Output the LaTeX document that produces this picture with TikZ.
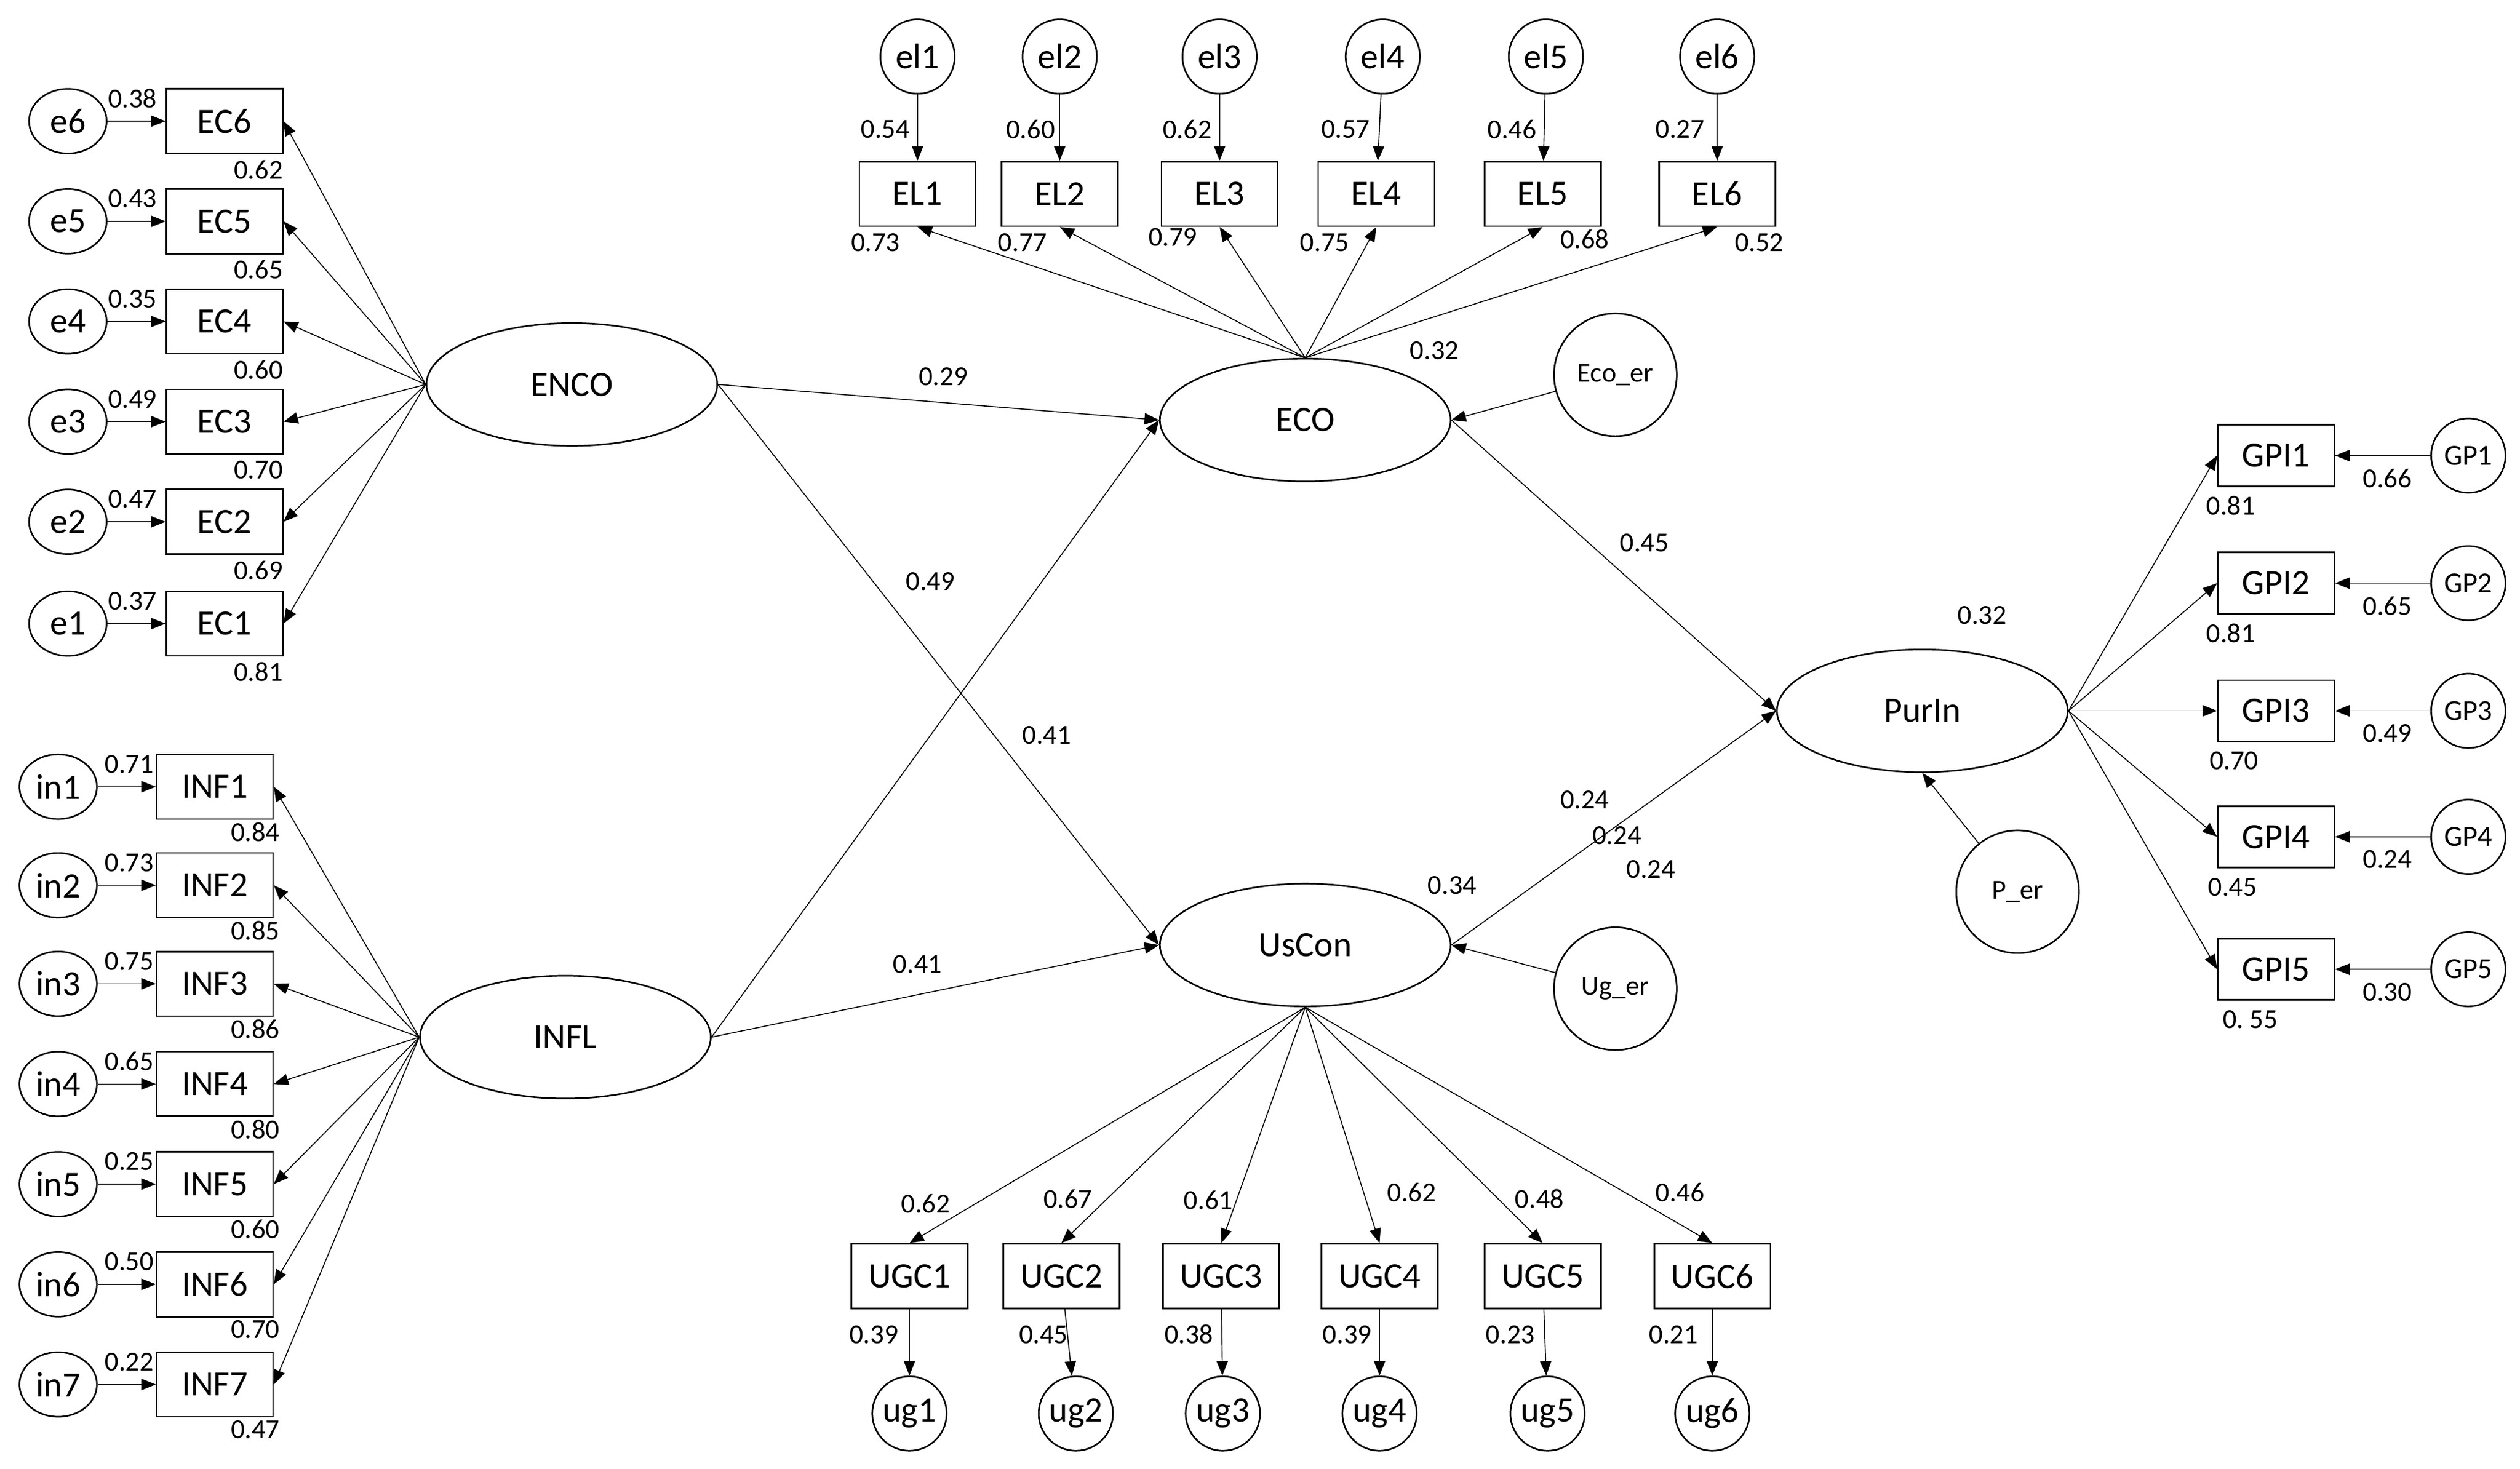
\documentclass[tikz,border=0pt]{standalone}
\usepackage{fontspec}
\setmainfont{Carlito}
\usetikzlibrary{arrows.meta,shapes.geometric}
\begin{document}
\begin{tikzpicture}[x=1pt,y=-1pt,
 box/.style={draw,line width=1pt,minimum width=72pt,minimum height=40pt,font=\fontsize{22}{24}\selectfont,inner sep=1pt},
 lat/.style={draw,ellipse,line width=1pt,minimum width=180pt,minimum height=76pt,font=\fontsize{22}{24}\selectfont},
 err/.style={draw,circle,line width=1pt,minimum size=46pt,inner sep=0pt,font=\fontsize{22}{24}\selectfont},
 eerr/.style={draw,ellipse,line width=1pt,minimum width=48pt,minimum height=40pt,inner sep=0pt,font=\fontsize{22}{24}\selectfont},
 rerr/.style={draw,circle,line width=1pt,minimum size=76pt,inner sep=0pt,font=\fontsize{17}{19}\selectfont},
 num/.style={font=\fontsize{17}{19}\selectfont,inner sep=0pt},
 arr/.style={-{Triangle[length=9pt,width=7pt]},line width=0.6pt}]
\useasboundingbox (0,0) rectangle (1560,909);
% ENCO block
\node[lat] (ENCO) at (354,238) {ENCO};
\foreach \i/\y/\a/\b in {6/75/0.38/0.62,5/137/0.43/0.65,4/199/0.35/0.60,3/261/0.49/0.70,2/323/0.47/0.69,1/386/0.37/0.81}{
 \node[box] (EC\i) at (139,\y) {EC\i};
 \node[eerr] (e\i) at (42,\y) {e\i};
 \draw[arr] (e\i) -- (EC\i);
 \draw[arr] (ENCO.west) -- (EC\i.east);
 \node[num] (ea\i) at (82,\y-14) {\a};
 \node[num] (eb\i) at (160,\y+30) {\b};
}
% INFL block
\node[lat] (INFL) at (350,642) {INFL};
\foreach \i/\y/\a/\b in {1/487/0.71/0.84,2/548/0.73/0.85,3/609/0.75/0.86,4/671/0.65/0.80,5/733/0.25/0.60,6/795/0.50/0.70,7/857/0.22/0.47}{
 \node[box] (INF\i) at (133,\y) {INF\i};
 \node[eerr] (in\i) at (36,\y) {in\i};
 \draw[arr] (in\i) -- (INF\i);
 \draw[arr] (INFL.west) -- (INF\i.east);
 \node[num] (ia\i) at (80,\y-14) {\a};
 \node[num] (ib\i) at (158,\y+28) {\b};
}
% ECO block
\node[lat] (ECO) at (808,260) {ECO};
\foreach \i/\x/\bx/\a/\ax/\b/\cx/\cy in {1/568/568/0.54/548/0.73/542/150,2/656/656/0.60/638/0.77/633/150,3/755/755/0.62/735/0.79/726/147,4/856/852/0.57/833/0.75/820/150,5/957/955/0.46/936/0.68/981/148,6/1063/1063/0.27/1040/0.52/1089/150}{
 \node[err] (el\i) at (\x,35) {el\i};
 \node[box] (EL\i) at (\bx,120) {EL\i};
 \draw[arr] (el\i) -- (EL\i);
 \draw[arr] (ECO.north) -- (EL\i.south);
 \node[num] (la\i) at (\ax,80) {\a};
 \node[num] (lb\i) at (\cx,\cy) {\b};
}
\node[num] (r1) at (888,217) {0.32};
\node[rerr] (Ecoer) at (1000,232) {Eco\_er};
\draw[arr] (Ecoer) -- (ECO.east);
% UsCon block
\node[lat] (UsCon) at (808,585) {UsCon};
\foreach \i/\x/\ux/\a/\ax/\ay/\b/\bx in {1/563/563/0.62/573/745/0.39/541,2/657/666/0.67/661/742/0.45/646,3/756/757/0.61/748/743/0.38/736,4/854/854/0.62/874/738/0.39/834,5/955/958/0.48/953/742/0.23/935,6/1060/1060/0.46/1040/738/0.21/1036}{
 \node[box] (UGC\i) at (\x,790) {UGC\i};
 \node[err] (ug\i) at (\ux,875) {ug\i};
 \draw[arr] (UGC\i) -- (ug\i);
 \draw[arr] (UsCon.south) -- (UGC\i.north);
 \node[num] (ua\i) at (\ax,\ay) {\a};
 \node[num] (ub\i) at (\bx,826) {\b};
}
\node[num] (r2) at (899,548) {0.34};
\node[rerr] (Uger) at (1000,612) {Ug\_er};
\draw[arr] (Uger) -- (UsCon.east);
% structural paths
\draw[arr] (ENCO.east) -- (ECO.west);
\draw[arr] (ENCO.east) -- (UsCon.west);
\draw[arr] (INFL.east) -- (ECO.west);
\draw[arr] (INFL.east) -- (UsCon.west);
\node[num] (p1) at (584,233) {0.29};
\node[num] (p2) at (576,360) {0.49};
\node[num] (p3) at (648,455) {0.41};
\node[num] (p4) at (568,597) {0.41};
% PurIn
\node[lat] (PurIn) at (1190,440) {PurIn};
\draw[arr] (ECO.east) -- (PurIn.west);
\draw[arr] (UsCon.east) -- (PurIn.west);
\node[num] (p5) at (1018,336) {0.45};
\node[num] (p6) at (981,495) {0.24};
\node[num] (p7) at (1001,517) {0.24};
\node[num] (p8) at (1022,538) {0.24};
\node[num] (r3) at (1227,381) {0.32};
\node[rerr] (Per) at (1249,552) {P\_er};
\draw[arr] (Per) -- (PurIn.south);
\foreach \i/\y/\a/\b/\bx in {1/282/0.66/0.81/1381,2/361/0.65/0.81/1381,3/440/0.49/0.70/1383,4/518/0.24/0.45/1382,5/600/0.30/0.\ 55/1393}{
 \node[box,minimum height=38pt] (GPI\i) at (1409,\y) {GPI\i};
 \node[err,font=\fontsize{18}{20}\selectfont] (GP\i) at (1528,\y) {GP\i};
 \draw[arr] (GP\i) -- (GPI\i);
 \draw[arr] (PurIn.east) -- (GPI\i.west);
 \node[num] (ga\i) at (1478,\y+14) {\a};
 \node[num] (gb\i) at (\bx,\y+31) {\b};
}
\end{tikzpicture}
\end{document}
